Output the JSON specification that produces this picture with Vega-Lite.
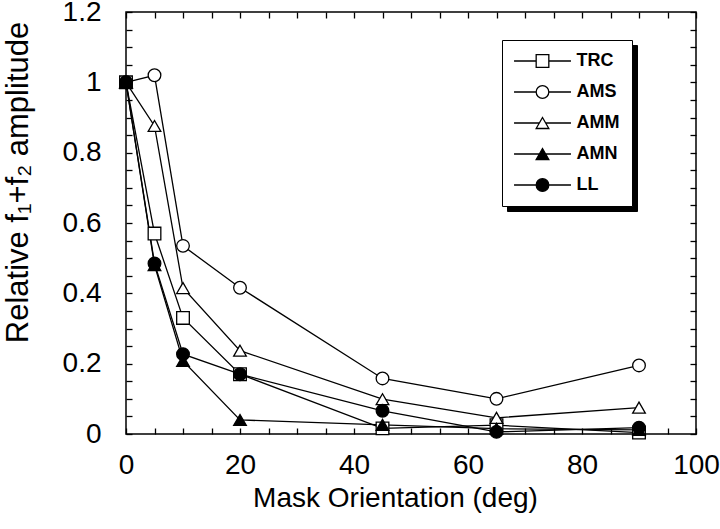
{
  "$schema": "https://vega.github.io/schema/vega-lite/v6.json",
  "autosize": "none",
  "width": 570,
  "height": 422,
  "padding": {"left": 126, "top": 12, "right": 24, "bottom": 95},
  "background": "white",
  "config": {
    "view": {"stroke": "black", "strokeWidth": 1.5},
    "font": "Liberation Sans",
    "axis": {
      "domain": false,
      "grid": false,
      "tickColor": "black",
      "tickWidth": 1.3,
      "tickSize": -6,
      "labelFont": "Liberation Sans",
      "labelFontSize": 28,
      "labelColor": "black",
      "titleFont": "Liberation Sans",
      "titleFontSize": 28,
      "titleFontWeight": "normal",
      "titleColor": "black"
    }
  },
  "data": {
    "values": [
      {"series": "TRC", "x": 0, "y": 1.0},
      {"series": "TRC", "x": 5, "y": 0.57},
      {"series": "TRC", "x": 10, "y": 0.33},
      {"series": "TRC", "x": 20, "y": 0.17},
      {"series": "TRC", "x": 45, "y": 0.016},
      {"series": "TRC", "x": 65, "y": 0.025},
      {"series": "TRC", "x": 90, "y": 0.004},
      {"series": "AMS", "x": 0, "y": 1.0},
      {"series": "AMS", "x": 5, "y": 1.02},
      {"series": "AMS", "x": 10, "y": 0.535},
      {"series": "AMS", "x": 20, "y": 0.416},
      {"series": "AMS", "x": 45, "y": 0.158},
      {"series": "AMS", "x": 65, "y": 0.1},
      {"series": "AMS", "x": 90, "y": 0.195},
      {"series": "AMM", "x": 0, "y": 1.0},
      {"series": "AMM", "x": 5, "y": 0.876},
      {"series": "AMM", "x": 10, "y": 0.415},
      {"series": "AMM", "x": 20, "y": 0.237},
      {"series": "AMM", "x": 45, "y": 0.099},
      {"series": "AMM", "x": 65, "y": 0.046},
      {"series": "AMM", "x": 90, "y": 0.075},
      {"series": "AMN", "x": 0, "y": 1.0},
      {"series": "AMN", "x": 5, "y": 0.48},
      {"series": "AMN", "x": 10, "y": 0.208},
      {"series": "AMN", "x": 20, "y": 0.04},
      {"series": "AMN", "x": 45, "y": 0.026},
      {"series": "AMN", "x": 65, "y": 0.015},
      {"series": "AMN", "x": 90, "y": 0.012},
      {"series": "LL", "x": 0, "y": 1.0},
      {"series": "LL", "x": 5, "y": 0.485},
      {"series": "LL", "x": 10, "y": 0.227},
      {"series": "LL", "x": 20, "y": 0.17},
      {"series": "LL", "x": 45, "y": 0.066},
      {"series": "LL", "x": 65, "y": 0.006},
      {"series": "LL", "x": 90, "y": 0.018}
    ]
  },
  "layer": [
    {
      "mark": {"type": "line", "color": "black", "strokeWidth": 1.3},
      "encoding": {
        "x": {
          "field": "x", "type": "quantitative",
          "scale": {"domain": [0, 100], "nice": false, "zero": false},
          "axis": {
            "orient": "bottom",
            "title": "Mask Orientation (deg)",
            "values": [0,5,10,15,20,25,30,35,40,45,50,55,60,65,70,75,80,85,90,95,100],
            "format": "d",
            "labelExpr": "datum.value % 20 === 0 ? datum.label : ''",
            "labelPadding": 23,
            "labelFlush": false,
            "labelOverlap": false,
            "titleX": 269,
            "titleY": 72,
            "titleBaseline": "alphabetic"
          }
        },
        "y": {
          "field": "y", "type": "quantitative",
          "scale": {"domain": [0, 1.2], "nice": false},
          "axis": {
            "orient": "left",
            "title": "Relative f₁+f₂ amplitude",
            "values": [0,0.05,0.1,0.15,0.2,0.25,0.3,0.35,0.4,0.45,0.5,0.55,0.6,0.65,0.7,0.75,0.8,0.85,0.9,0.95,1,1.05,1.1,1.15,1.2],
            "format": "~g",
            "labelExpr": "abs(datum.value * 5 - round(datum.value * 5)) < 0.000001 ? datum.label : ''",
            "labelPadding": 31,
            "labelFlush": false,
            "labelOverlap": false,
            "titleX": -99,
            "titleY": 170,
            "titleFontSize": 31,
            "titleBaseline": "alphabetic",
            "titleAngle": -90
          }
        },
        "detail": {"field": "series"},
        "opacity": {
          "field": "series", "type": "ordinal",
          "scale": {"type": "ordinal", "domain": ["LL", "AMN", "AMM", "AMS", "TRC"], "range": [1, 1, 1, 1, 1]},
          "legend": {
            "orient": "none", "legendX": 381, "legendY": 33, "zindex": 0,
            "title": null, "padding": 12, "symbolSize": 160, "rowPadding": 13,
            "symbolOffset": 19.5, "labelOffset": 25,
            "labelFont": "Liberation Sans", "labelFontSize": 18, "labelFontWeight": "bold", "labelColor": "black",
            "fillColor": "black", "strokeColor": "black",
            "symbolType": "M-4.5,0H-1M1,0H4.5M-1,-1H1V1H-1Z",
            "symbolFillColor": "black", "symbolStrokeColor": "black", "symbolStrokeWidth": 1.3
          }
        }
      }
    },
    {
      "mark": {"type": "point", "filled": true, "stroke": "black", "strokeWidth": 1.3, "opacity": 1},
      "encoding": {
        "x": {"field": "x", "type": "quantitative", "axis": {"orient": "top", "labels": false, "title": null, "values": [0,5,10,15,20,25,30,35,40,45,50,55,60,65,70,75,80,85,90,95,100]}},
        "y": {"field": "y", "type": "quantitative", "axis": {"orient": "right", "labels": false, "title": null, "values": [0,0.05,0.1,0.15,0.2,0.25,0.3,0.35,0.4,0.45,0.5,0.55,0.6,0.65,0.7,0.75,0.8,0.85,0.9,0.95,1,1.05,1.1,1.15,1.2]}},
        "size": {
          "field": "series", "type": "ordinal",
          "scale": {"type": "ordinal", "domain": ["TRC", "AMS", "AMM", "AMN", "LL"], "range": [160, 160, 160, 160, 160]},
          "legend": {
            "orient": "none", "legendX": 376, "legendY": 28, "zindex": 1,
            "title": null, "padding": 12, "rowPadding": 13,
            "symbolOffset": 19.5, "labelOffset": 25,
            "labelFont": "Liberation Sans", "labelFontSize": 18, "labelFontWeight": "bold", "labelColor": "black",
            "fillColor": "white", "strokeColor": "black",
            "symbolType": {"expr": "datum.value === 'TRC' ? 'M-4.5,0H-1M1,0H4.5M-1,-1H1V1H-1Z' : (datum.value === 'AMM' || datum.value === 'AMN') ? 'M-4.5,0H-0.5M0.5,0H4.5M0,-0.866L1,0.866L-1,0.866Z' : 'M-4.5,0H-1M1,0H4.5M1,0A1,1,0,1,1,-1,0A1,1,0,1,1,1,0Z'"},
            "symbolFillColor": {"expr": "(datum.value === 'AMN' || datum.value === 'LL') ? 'black' : 'white'"},
            "symbolStrokeColor": "black",
            "symbolStrokeWidth": 1.3
          }
        },
        "shape": {
          "field": "series", "type": "nominal",
          "sort": ["TRC", "AMS", "AMM", "AMN", "LL"],
          "scale": {"range": ["square", "circle", "triangle-up", "triangle-up", "circle"]},
          "legend": null
        },
        "fill": {
          "field": "series", "type": "nominal",
          "sort": ["TRC", "AMS", "AMM", "AMN", "LL"],
          "scale": {"range": ["white", "white", "white", "black", "black"]},
          "legend": null
        }
      }
    }
  ]
}
